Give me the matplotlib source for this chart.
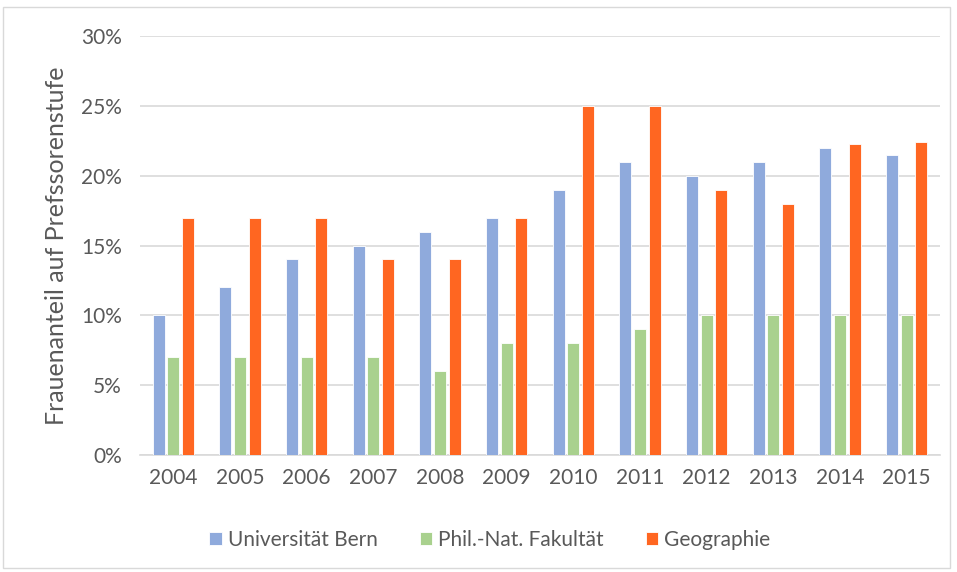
import matplotlib.pyplot as plt
import matplotlib.transforms as mtransforms
import numpy as np
from matplotlib.patches import Rectangle

# Data
years = ["2004", "2005", "2006", "2007", "2008", "2009",
         "2010", "2011", "2012", "2013", "2014", "2015"]
uni_bern = [10, 12, 14, 15, 16, 17, 19, 21, 20, 21, 22, 21.45]
phil_nat = [7, 7, 7, 7, 6, 8, 8, 9, 10, 10, 10, 10]
geographie = [17, 17, 17, 14, 14, 17, 25, 25, 19, 18, 22.3, 22.4]
series_names = ["Universität Bern", "Phil.-Nat. Fakultät", "Geographie"]
colors = ["#8FAADC", "#A9D18E", "#FF6621"]

plt.rcParams['font.family'] = ['Lato', 'DejaVu Sans']
text_col = "#595959"

fig = plt.figure(figsize=(9.57, 5.72), dpi=100)
ax = fig.add_axes([140 / 957, 1 - 455 / 572, 800 / 957, 419 / 572])

x = np.arange(len(years))
w = 0.18
step = 0.22
for i, vals in enumerate([uni_bern, phil_nat, geographie]):
    ax.bar(x + (i - 1) * step, vals, width=w, color=colors[i],
           edgecolor="white", linewidth=0.6, label=series_names[i], zorder=3)

ax.set_xlim(-0.5, len(years) - 0.5)
ax.set_ylim(0, 30)
ax.set_yticks(range(0, 31, 5))
ax.set_yticklabels([f"{v}%" for v in range(0, 31, 5)])
ax.set_xticks(x)
ax.set_xticklabels(years)
ax.grid(axis="y", color="#D9D9D9", linewidth=1.2, zorder=0)
for s in ["top", "right", "left"]:
    ax.spines[s].set_visible(False)
ax.spines["bottom"].set_color("#D9D9D9")
ax.spines["bottom"].set_linewidth(1.2)
ax.tick_params(length=0, labelsize=15, colors=text_col)
ax.tick_params(axis="y", pad=13)
ax.tick_params(axis="x", pad=9)

# y label placed by hand: x in figure coords, y centred on the axes
lab_tr = mtransforms.blended_transform_factory(fig.transFigure, ax.transAxes)
fig.text(57 / 957, 0.5, "Frauenanteil auf Prefssorenstufe", transform=lab_tr,
         rotation=90, ha="center", va="center", fontsize=18, color=text_col)

fig.legend(loc="center", bbox_to_anchor=(490 / 957, 1 - 540 / 572), ncol=3,
           frameon=False, fontsize=15, labelcolor=text_col,
           handlelength=0.6, handleheight=0.6, handletextpad=0.3, columnspacing=2.0)

fig.patches.append(Rectangle((3 / 957, 4 / 572), 947 / 957, 561 / 572,
                             transform=fig.transFigure, fill=False,
                             edgecolor="#D9D9D9", linewidth=1))

fig.savefig("out.png", dpi=100)
